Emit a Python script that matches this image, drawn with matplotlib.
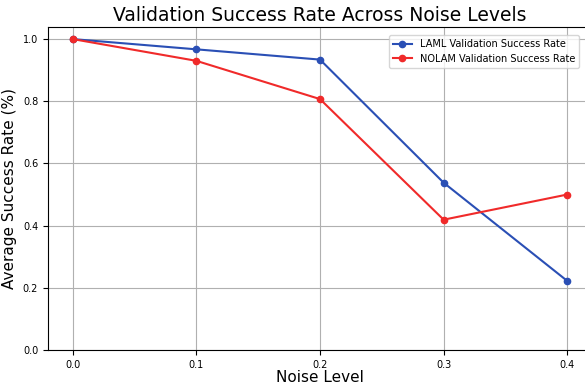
import matplotlib
matplotlib.use("Agg")
import matplotlib.pyplot as plt

noise_levels = [0.0, 0.1, 0.2, 0.3, 0.4]
laml_rate = [1.0, 0.967, 0.934, 0.538, 0.222]
nolam_rate = [1.0, 0.930, 0.807, 0.419, 0.500]

fig = plt.figure(figsize=(5.85, 3.85), dpi=100)
ax = fig.add_axes([0.082, 0.091, 0.93, 0.839])

ax.plot(noise_levels, laml_rate, marker='o', color='#2a4fb5', lw=1.5, ms=4.5,
        label='LAML Validation Success Rate')
ax.plot(noise_levels, nolam_rate, marker='o', color='#f02a2a', lw=1.5, ms=4.5,
        label='NOLAM Validation Success Rate')

ax.set_xlim(-0.02, 0.42)
ax.set_ylim(0, 1.039)
ax.set_xticks(noise_levels)
ax.set_yticks([0.0, 0.2, 0.4, 0.6, 0.8, 1.0])
ax.tick_params(labelsize=7)
ax.grid(True, color='#b0b0b0', lw=0.8)
ax.set_xlabel('Noise Level', fontsize=11, labelpad=0)
ax.set_ylabel('Average Success Rate (%)', fontsize=11)
ax.set_title('Validation Success Rate Across Noise Levels', fontsize=13.5, pad=4)
ax.legend(loc='upper right', fontsize=7, bbox_to_anchor=(0.985, 0.99))

fig.savefig('out.png', dpi=100)
